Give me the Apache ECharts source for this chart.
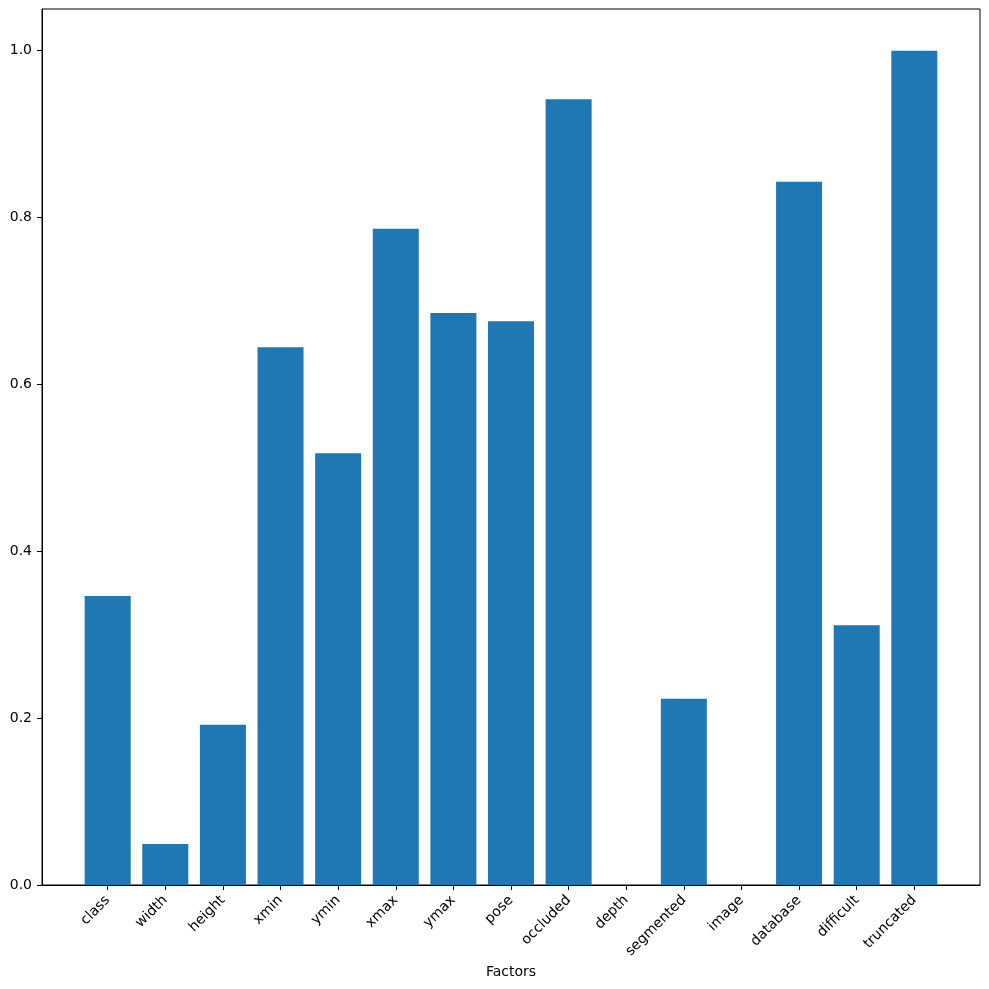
<!DOCTYPE html>
<html>
<head>
<meta charset="utf-8">
<script src="https://cdn.jsdelivr.net/npm/echarts@6/dist/echarts.min.js"></script>
<style>
  html, body { margin: 0; padding: 0; background: #fff; }
  #chart { width: 989px; height: 989px; }
</style>
</head>
<body>
<div id="chart"></div>
<script>
var categories = ['class', 'width', 'height', 'xmin', 'ymin', 'xmax', 'ymax', 'pose',
    'occluded', 'depth', 'segmented', 'image', 'database', 'difficult', 'truncated'];
var values = [0.346, 0.049, 0.192, 0.644, 0.517, 0.786, 0.685, 0.675,
    0.941, 0, 0.223, 0, 0.842, 0.311, 0.999];
var yTicks = [0, 0.2, 0.4, 0.6, 0.8, 1.0];
var xTicks = categories.map(function (c, i) { return i; });

var dom = document.getElementById('chart');
var myChart = echarts.init(dom);

var barData = values.map(function (v, i) { return [i, v]; });

var font = 'DejaVu Sans';

var option = {
    animation: false,
    backgroundColor: '#fff',
    grid: {
        left: 42,
        right: 9,
        top: 9,
        bottom: 104,
        show: true,
        borderColor: '#000',
        borderWidth: 1
    },
    xAxis: {
        type: 'value',
        min: -1.14,
        max: 15.14,
        name: 'Factors',
        nameLocation: 'middle',
        nameGap: 78,
        nameTextStyle: { color: '#000', fontSize: 14, fontFamily: font },
        splitLine: { show: false },
        axisLine: { show: true, onZero: false, lineStyle: { color: '#000' } },
        axisTick: {
            show: true,
            length: 5,
            customValues: xTicks,
            lineStyle: { color: '#000' }
        },
        axisLabel: {
            customValues: xTicks,
            rotate: 45,
            margin: 13,
            color: '#000',
            fontSize: 14,
            fontFamily: font,
            formatter: function (v) { return categories[Math.round(v)]; }
        }
    },
    yAxis: {
        type: 'value',
        min: 0,
        max: 1.049,
        splitLine: { show: false },
        axisLine: { show: true, onZero: false, lineStyle: { color: '#000' } },
        axisTick: {
            show: true,
            length: 5,
            customValues: yTicks,
            lineStyle: { color: '#000' }
        },
        axisLabel: {
            customValues: yTicks,
            margin: 10,
            color: '#000',
            fontSize: 14,
            fontFamily: font,
            formatter: function (v) { return v.toFixed(1); }
        }
    },
    series: [
        {
            type: 'bar',
            barWidth: 46,
            itemStyle: { color: '#1f77b4' },
            data: barData
        }
    ]
};

myChart.setOption(option, true);
</script>
</body>
</html>
